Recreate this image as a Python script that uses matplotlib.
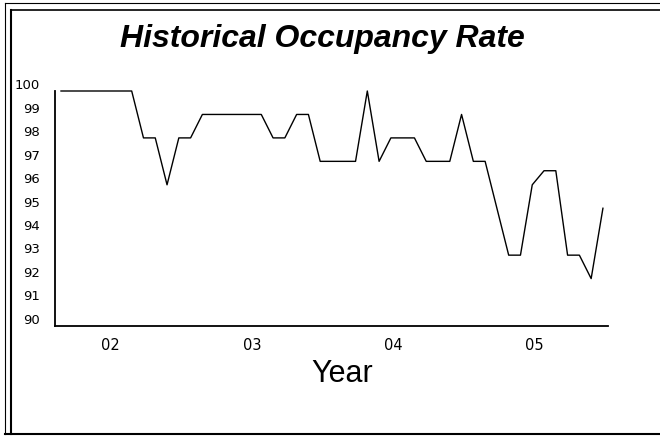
import matplotlib
matplotlib.use("Agg")
import matplotlib.pyplot as plt
from matplotlib.transforms import ScaledTranslation
from matplotlib.lines import Line2D

# Monthly occupancy rate (%), starting late 2001
occupancy = [100, 100, 100, 100, 100, 100, 100,
             98, 98, 96, 98, 98,
             99, 99, 99, 99, 99, 99,
             98, 98, 99, 99,
             97, 97, 97, 97, 100, 97,
             98, 98, 98, 97, 97, 97,
             99, 97, 97, 95, 93, 93,
             96, 96.6, 96.6, 93, 93, 92, 95]
months = list(range(len(occupancy)))

year_labels = ['02', '03', '04', '05']
year_pos = [4.2, 16.2, 28.2, 40.2]
y_ticks = list(range(90, 101))

fig = plt.figure(figsize=(6.6, 4.39), dpi=100)
W, H = 660, 439
ax = fig.add_axes([55 / W, 1 - 326.5 / H, (608 - 55) / W, (326.5 - 92) / H])

ax.plot(months, occupancy, color='black', linewidth=1.0, clip_on=False)

ax.set_xlim(-0.51, 46.43)
ax.set_ylim(90, 100)
ax.set_xticks(year_pos)
ax.set_xticklabels(year_labels, fontsize=10.5, family='DejaVu Sans')
ax.set_yticks(y_ticks)
ax.set_yticklabels([str(v) for v in y_ticks], fontsize=9.5, family='DejaVu Sans')
ax.tick_params(axis='both', length=0)
ax.tick_params(axis='x', pad=8)
ax.tick_params(axis='y', pad=11)

# y labels sit a little above their level, as in the original
shift = ScaledTranslation(0, 7.7 / 100, fig.dpi_scale_trans)
for lab in ax.get_yticklabels():
    lab.set_transform(lab.get_transform() + shift)

for side in ['top', 'right']:
    ax.spines[side].set_visible(False)
ax.spines['left'].set_linewidth(1.3)
ax.spines['bottom'].set_linewidth(1.3)

fig.text(322 / W, 1 - 39 / H, 'Historical Occupancy Rate', ha='center', va='center',
         fontsize=23, fontweight='bold', fontstyle='italic', family='Liberation Sans')
fig.text(342 / W, 1 - 374 / H, 'Year', ha='center', va='center',
         fontsize=22, family='Liberation Sans')

# outer frame (double line on top and left)
def fline(x0, y0, x1, y1, lw):
    fig.add_artist(Line2D([x0 / W, x1 / W], [1 - y0 / H, 1 - y1 / H],
                          transform=fig.transFigure, color='black', linewidth=lw))

fline(5, 4, 660, 4, 0.8)
fline(11, 11, 660, 11, 1.2)
fline(5, 4, 5, 435, 0.8)
fline(11, 11, 11, 435, 1.5)
fline(5, 435, 660, 435, 1.5)

fig.savefig('out.png', dpi=100)
